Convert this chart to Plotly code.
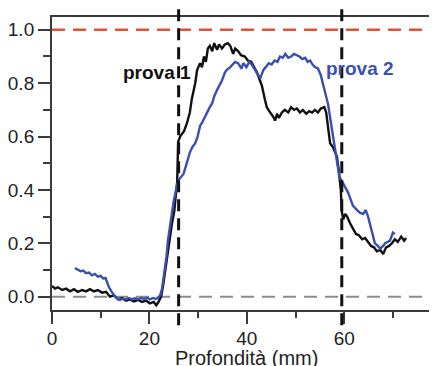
import plotly.graph_objects as go

# Prova 1 (black)
x1 = [0.0, 0.6, 1.2, 2.1, 2.9, 3.7, 4.5, 5.3, 6.2, 7.0, 7.8, 8.6, 9.4, 10.3, 11.1, 11.9,
      12.7, 13.6, 14.4, 15.2, 16.0, 16.8, 17.7, 18.5, 19.3, 20.1, 20.9, 21.4, 21.8, 22.4,
      22.8, 23.4, 23.8, 24.2, 24.6, 25.1, 25.5, 25.7, 25.9, 26.3, 26.7, 27.1, 27.3, 27.7,
      28.3, 28.7, 29.4, 29.8, 30.4, 30.8, 31.2, 31.6, 32.0, 32.4, 32.9, 33.3, 33.9, 34.3,
      34.9, 35.5, 36.1, 36.6, 37.2, 37.6, 38.2, 38.8, 39.6, 40.2, 40.9, 41.5, 42.1, 42.7,
      43.1, 43.7, 44.1, 44.8, 45.4, 45.8, 46.2, 46.6, 47.2, 47.8, 48.5, 49.1, 49.7, 50.3,
      50.9, 51.5, 52.2, 52.8, 53.4, 54.0, 54.6, 55.2, 55.9, 56.3, 56.7, 57.1, 57.7, 58.1,
      58.5, 58.9, 59.3, 59.5, 59.8, 60.2, 60.6, 61.2, 61.8, 62.4, 63.0, 63.7, 64.3, 64.9,
      65.5, 66.1, 66.7, 67.4, 68.0, 68.6, 69.2, 69.8, 70.4, 71.0, 71.7, 72.3, 72.7]
y1 = [0.04, 0.03, 0.035, 0.025, 0.03, 0.02, 0.028, 0.018, 0.025, 0.02, 0.028, 0.02, 0.025,
      0.015, 0.018, 0.0, 0.005, -0.01, -0.005, -0.015, -0.01, -0.018, -0.012, -0.02, -0.015,
      -0.025, -0.02, -0.032, -0.022, 0.0, 0.04, 0.12, 0.16, 0.22, 0.27, 0.32, 0.38, 0.43,
      0.58, 0.60, 0.61, 0.62, 0.63, 0.65, 0.69, 0.74, 0.80, 0.85, 0.875, 0.86, 0.90, 0.88,
      0.93, 0.94, 0.92, 0.95, 0.925, 0.945, 0.93, 0.945, 0.95, 0.94, 0.91, 0.93, 0.92,
      0.905, 0.90, 0.885, 0.88, 0.86, 0.84, 0.81, 0.79, 0.74, 0.71, 0.69, 0.675, 0.66,
      0.685, 0.67, 0.69, 0.70, 0.69, 0.71, 0.70, 0.705, 0.69, 0.70, 0.685, 0.695, 0.69,
      0.70, 0.69, 0.705, 0.71, 0.69, 0.62, 0.575, 0.56, 0.54, 0.525, 0.47, 0.40, 0.32,
      0.29, 0.31, 0.30, 0.275, 0.255, 0.235, 0.23, 0.215, 0.22, 0.205, 0.19, 0.185, 0.17,
      0.175, 0.16, 0.185, 0.19, 0.20, 0.215, 0.205, 0.225, 0.21, 0.22]

# Prova 2 (blue)
x2 = [4.7, 5.3, 5.9, 6.4, 7.0, 7.6, 8.2, 8.8, 9.4, 10.0, 10.5, 11.0, 11.3, 11.7, 12.2, 12.7,
      13.3, 13.9, 14.5, 15.2, 15.8, 16.4, 17.0, 17.7, 18.3, 18.9, 19.5, 20.1, 20.7, 21.3,
      21.8, 22.2, 22.6, 23.1, 23.5, 23.8, 24.2, 24.6, 25.0, 25.3, 25.7, 26.1, 26.5, 27.0,
      27.5, 28.0, 28.3, 28.8, 29.4, 29.9, 30.4, 30.9, 31.4, 31.8, 32.4, 32.9, 33.3, 33.9,
      34.3, 34.9, 35.5, 35.9, 36.6, 37.2, 37.6, 38.2, 38.9, 39.3, 39.9, 40.5, 41.0, 41.7,
      42.3, 42.8, 43.4, 43.9, 44.5, 45.1, 45.7, 46.3, 46.8, 47.4, 47.9, 48.5, 49.1, 49.7,
      50.2, 50.8, 51.4, 52.0, 52.5, 53.0, 53.5, 54.0, 54.6, 55.2, 55.6, 56.1, 56.7, 57.2,
      57.7, 58.1, 58.6, 59.0, 59.6, 60.2, 60.8, 61.4, 61.8, 62.6, 63.2, 63.9, 64.4, 64.9,
      65.3, 65.7, 66.3, 66.9, 67.4, 68.0, 68.4, 68.9, 69.4, 70.0, 70.4]
y2 = [0.107, 0.10, 0.095, 0.098, 0.088, 0.09, 0.08, 0.085, 0.075, 0.078, 0.068, 0.07,
      0.055, 0.035, 0.02, 0.006, -0.005, -0.012, -0.008, -0.01, -0.005, -0.01, -0.006,
      -0.01, -0.005, -0.008, -0.004, -0.01, -0.005, -0.008, -0.005, 0.005, 0.03, 0.09,
      0.15, 0.21, 0.27, 0.31, 0.36, 0.39, 0.42, 0.44, 0.45, 0.46, 0.49, 0.52, 0.54, 0.56,
      0.575, 0.60, 0.64, 0.655, 0.675, 0.69, 0.71, 0.725, 0.75, 0.775, 0.79, 0.81, 0.84,
      0.85, 0.86, 0.87, 0.88, 0.875, 0.855, 0.875, 0.86, 0.88, 0.87, 0.85, 0.83, 0.82,
      0.85, 0.86, 0.875, 0.87, 0.885, 0.88, 0.90, 0.895, 0.91, 0.895, 0.90, 0.91, 0.905,
      0.90, 0.89, 0.895, 0.88, 0.885, 0.87, 0.86, 0.855, 0.83, 0.80, 0.76, 0.72, 0.66,
      0.60, 0.55, 0.49, 0.45, 0.43, 0.41, 0.39, 0.36, 0.34, 0.325, 0.315, 0.31, 0.325,
      0.30, 0.27, 0.24, 0.20, 0.19, 0.18, 0.19, 0.20, 0.205, 0.21, 0.24, 0.235]

x_ticks = [0, 20, 40, 60]
x_tick_text = ["0", "20", "40", "60"]
y_ticks = [0.0, 0.2, 0.4, 0.6, 0.8, 1.0]
y_tick_text = ["0.0", "0.2", "0.4", "0.6", "0.8", "1.0"]
marker_lines = [26.0, 59.5]
ref_high = 1.0
ref_low = 0.0

FONT = "Liberation Sans, Arial, sans-serif"
BLUE = "#3a4fb2"
AX = "#3a3a3a"
TXT = "#222222"

fig = go.Figure()
fig.add_trace(go.Scatter(x=x1, y=y1, mode="lines", line=dict(color="#111111", width=2.4),
                         showlegend=False))
fig.add_trace(go.Scatter(x=x2, y=y2, mode="lines", line=dict(color=BLUE, width=2.4),
                         showlegend=False))

fig.add_shape(type="line", xref="paper", yref="y", x0=0, x1=1, y0=ref_low, y1=ref_low,
              line=dict(color="#8c8c8c", width=2, dash="13px,8px"), layer="below")
fig.add_shape(type="line", xref="paper", yref="y", x0=0, x1=1, y0=ref_high, y1=ref_high,
              line=dict(color="#e2532f", width=2.5, dash="13px,8px"), layer="below")
for xv in marker_lines:
    fig.add_shape(type="line", xref="x", yref="paper", x0=xv, x1=xv, y0=-0.052, y1=1.06,
                  line=dict(color="#111111", width=3, dash="12px,7px"), layer="above")

fig.add_annotation(x=21.5, y=0.84, xref="x", yref="y", text="<b>prova 1</b>",
                   showarrow=False, font=dict(family=FONT, size=19, color="#111111"))
fig.add_annotation(x=63.3, y=0.855, xref="x", yref="y", text="<b>prova 2</b>",
                   showarrow=False, font=dict(family=FONT, size=19, color=BLUE))
# tick label for 80 sits just beyond the cropped right edge
fig.add_annotation(x=0.98, y=-0.095, xref="paper", yref="paper", text="80",
                   xanchor="left", yanchor="middle", showarrow=False,
                   font=dict(family=FONT, size=19, color=TXT))
fig.add_annotation(x=0.505, y=-0.165, xref="paper", yref="paper", text="Profondità (mm)",
                   xanchor="center", yanchor="middle", showarrow=False,
                   font=dict(family=FONT, size=20, color=TXT))

fig.update_layout(
    width=429, height=358,
    margin=dict(l=44, r=0, t=9, b=56),
    paper_bgcolor="white", plot_bgcolor="white",
    font=dict(family=FONT, size=19, color=TXT),
    xaxis=dict(range=[0, 79.05], tickvals=x_ticks, ticktext=x_tick_text,
               showgrid=False, zeroline=False, showline=True, linecolor=AX, linewidth=2,
               mirror=True, ticks="outside", ticklen=12, tickwidth=2, tickcolor=AX,
               ticklabelstandoff=-2,
               minor=dict(dtick=10, tick0=0, ticklen=6, tickwidth=2, tickcolor=AX,
                          ticks="outside", showgrid=False),
               automargin=False),
    yaxis=dict(range=[-0.05, 1.048], tickvals=y_ticks, ticktext=y_tick_text,
               showgrid=False, zeroline=False, showline=True, linecolor=AX, linewidth=2,
               ticks="outside", ticklen=12, tickwidth=2, tickcolor=AX,
               minor=dict(dtick=0.1, tick0=0, ticklen=7, tickwidth=2, tickcolor=AX,
                          ticks="outside", showgrid=False),
               automargin=False),
)

fig.write_html("out.html")
